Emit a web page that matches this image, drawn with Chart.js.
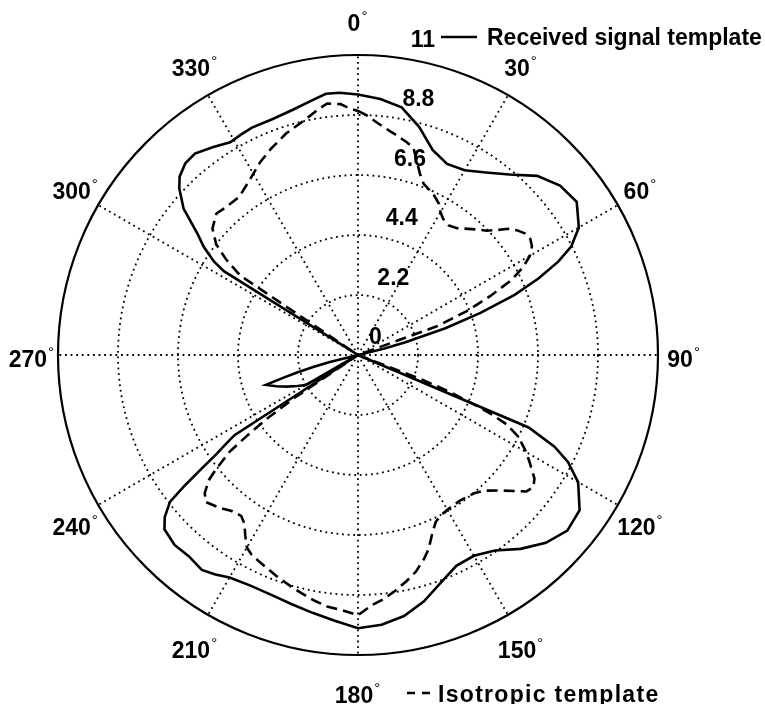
<!DOCTYPE html>
<html>
<head>
<meta charset="utf-8">
<title>Polar plot - templates</title>
<script src="https://cdn.jsdelivr.net/npm/chart.js@4.4.1/dist/chart.umd.min.js"></script>
<style>
  html, body { margin: 0; padding: 0; background: #fff; }
  #wrap { width: 765px; height: 704px; position: relative; }
</style>
</head>
<body>
<div id="wrap"><canvas id="myChart"></canvas></div>
<script>
// rings and spokes of the polar grid
var radialTicks = [0, 2.2, 4.4, 6.6, 8.8, 11];
var angleTicks = [0, 30, 60, 90, 120, 150, 180, 210, 240, 270, 300, 330];

// solid line: angle (deg, clockwise from top) / radius
var receivedAngles = [0, 5, 10, 15, 20, 25, 30, 35, 40, 45, 50, 55, 60, 63, 65, 67, 69, 71, 73, 75, 76, 77,
    112, 113, 115, 117, 120, 125, 130, 135, 140, 145, 150, 155, 160, 165, 170, 175, 180, 185, 190, 195, 200, 205,
    210, 213, 216, 220, 224, 228, 230, 232, 233, 234, 235, 236, 237, 238,
    240, 243, 246, 249, 252, 253, 254, 255, 256, 257,
    301, 302, 303, 305, 307, 310, 313, 315, 318, 321, 325, 329, 332, 335, 340, 345, 350, 353, 356];
var receivedValues = [9.55, 9.42, 9.22, 8.66, 8.0, 7.73, 7.82, 8.17, 8.64, 9.29, 9.67, 9.79, 9.35, 8.78, 8.1, 7.2, 6.15, 4.75, 3.35, 1.8, 1.0, 0,
    0, 6.8, 7.95, 8.64, 9.32, 9.92, 10.02, 9.74, 9.28, 8.75, 8.5, 8.53, 8.88, 9.35, 9.72, 9.93, 10.02, 9.78, 9.6, 9.45, 9.35, 9.33,
    9.42, 9.6, 9.74, 9.64, 9.68, 9.55, 9.25, 8.75, 7.95, 7.1, 6.35, 5.85, 5.4, 0,
    2.2, 2.5, 2.85, 3.2, 3.55, 2.9, 2.3, 1.7, 1.1, 0,
    0, 5.8, 6.3, 6.9, 7.36, 8.35, 8.96, 9.25, 9.46, 9.5, 9.3, 9.1, 9.15, 9.2, 9.2, 9.3, 9.5, 9.65, 9.64];

// dashed line
var isotropicAngles = [0, 2, 5, 8, 10, 13, 15, 17, 19, 21, 25, 28, 30, 32, 35, 38, 40, 43, 46, 48, 50, 52, 54, 56, 58, 60, 62, 64, 66, 68, 70, 71,
    110, 111, 112, 113, 114, 115, 117, 120, 122, 125, 127, 129, 131, 134, 137, 140, 145, 150, 153, 155, 157, 160, 162, 165, 168, 171, 174, 177,
    180, 183, 187, 190, 195, 200, 205, 208, 210, 212, 214, 216, 219, 222, 226, 228, 230, 231, 232, 233, 234, 235, 236, 237,
    302, 304, 306, 308, 311, 315, 318, 323, 328, 333, 337, 342, 347, 351, 353, 356, 358];
var isotropicValues = [8.95, 8.8, 8.52, 8.3, 8.18, 8.0, 7.86, 7.4, 7.0, 6.72, 6.52, 6.3, 6.05, 5.89, 5.8, 5.9, 6.05, 6.3, 6.56, 6.85, 7.2, 7.42, 7.58, 7.62, 7.52, 7.28, 6.85, 6.25, 5.3, 4.3, 3.1, 0,
    0, 2.5, 3.7, 4.6, 5.4, 6.0, 6.6, 7.12, 7.42, 7.9, 8.05, 7.95, 7.6, 7.15, 6.8, 6.62, 6.52, 6.55, 6.63, 6.75, 7.02, 7.57, 7.85, 8.22, 8.49, 8.75, 9.0, 9.2,
    9.54, 9.4, 9.29, 9.15, 8.9, 8.65, 8.42, 8.3, 8.15, 7.8, 7.45, 7.29, 7.36, 7.55, 7.76, 7.56, 7.14, 6.75, 6.3, 5.9, 5.0, 4.1, 2.8, 0,
    0, 5.2, 6.0, 6.6, 7.07, 7.34, 7.27, 7.25, 7.53, 7.92, 8.2, 8.54, 8.82, 9.14, 9.29, 9.22, 9.05];

var legendLabels = ['Received signal template', 'Isotropic template'];

// one label per degree, the radar scale then puts each value at its angle
var labels = [];
for (var i = 0; i < 360; i++) labels.push(String(i));

function toDegrees(angles, values) {
    var arr = labels.map(function() { return null; });
    angles.forEach(function(a, k) { arr[a % 360] = values[k]; });
    return arr;
}

var FONT = '"Liberation Sans", Arial, sans-serif';
var DEG = Math.PI / 180;

// matlab-like labels: angles outside the ring, radii along 82 deg, legend entries
var polarText = {
    id: 'polarText',
    afterDraw: function(chart) {
        var scale = chart.scales.r;
        var ctx = chart.ctx;
        var xc = scale.xCenter, yc = scale.yCenter, R = scale.drawingArea;
        ctx.save();
        ctx.fillStyle = '#000';

        angleTicks.forEach(function(a) {
            var txt = String(a);
            var x = xc + 1.087 * R * Math.sin(a * DEG) - 4;
            var y = yc - 1.12 * R * Math.cos(a * DEG) + 6;
            ctx.font = 'bold 23px ' + FONT;
            ctx.textAlign = 'center';
            ctx.textBaseline = 'middle';
            ctx.fillText(txt, x, y);
            var w = ctx.measureText(txt).width;
            ctx.font = '15px ' + FONT;
            ctx.textAlign = 'left';
            ctx.textBaseline = 'alphabetic';
            ctx.fillText('\u00b0', x + w / 2 + 1, y - 4);
        });

        ctx.font = 'bold 23px ' + FONT;
        ctx.textAlign = 'left';
        ctx.textBaseline = 'alphabetic';
        radialTicks.forEach(function(v) {
            var d = scale.getDistanceFromCenterForValue(v);
            ctx.fillText(String(v), xc + 11 + d * Math.sin(8 * DEG), yc - 11 - d * Math.cos(8 * DEG));
        });

        // legend, top entry sits next to the "11" label, bottom one next to 180
        ctx.strokeStyle = '#000';
        ctx.lineWidth = 2.4;
        ctx.beginPath();
        ctx.moveTo(441, 37);
        ctx.lineTo(477, 37);
        ctx.stroke();
        ctx.fillText(legendLabels[0], 487, 45);

        ctx.setLineDash([8, 7]);
        ctx.beginPath();
        ctx.moveTo(407, 693);
        ctx.lineTo(430, 693);
        ctx.stroke();
        ctx.letterSpacing = '1.3px';
        ctx.fillText(legendLabels[1], 438, 702);
        ctx.restore();
    }
};

var ctx = document.getElementById('myChart');

var myChart = new Chart(ctx, {
    type: 'radar',
    data: {
        labels: labels,
        datasets: [{
            label: legendLabels[0],
            data: toDegrees(receivedAngles, receivedValues),
            borderColor: '#000',
            borderWidth: 2.6,
            fill: false,
            spanGaps: true,
            tension: 0,
            pointRadius: 0,
            pointHitRadius: 0
        }, {
            label: legendLabels[1],
            data: toDegrees(isotropicAngles, isotropicValues),
            borderColor: '#000',
            borderWidth: 2.6,
            borderDash: [11, 6],
            fill: false,
            spanGaps: true,
            tension: 0,
            pointRadius: 0,
            pointHitRadius: 0
        }]
    },
    options: {
        responsive: true,
        maintainAspectRatio: false,
        devicePixelRatio: 1,
        animation: false,
        layout: {
            padding: { left: 58, right: 107, top: 55, bottom: 49 }
        },
        plugins: {
            legend: { display: false },
            tooltip: { enabled: false }
        },
        scales: {
            r: {
                min: 0,
                max: 11,
                ticks: { stepSize: 2.2, display: false },
                pointLabels: { display: false },
                grid: {
                    circular: true,
                    color: '#000',
                    lineWidth: function(c) { return c.tick && c.tick.value === 11 ? 2.2 : 1.8; }
                },
                border: {
                    dash: function(c) { return c.tick && c.tick.value === 11 ? [] : [1.8, 3.8]; }
                },
                angleLines: {
                    color: function(c) { return c.index % 30 === 0 ? '#000' : 'rgba(0,0,0,0)'; },
                    lineWidth: function(c) { return c.index % 30 === 0 ? 1.8 : 0; },
                    borderDash: [1.8, 3.8]
                }
            }
        }
    },
    plugins: [polarText]
});
</script>
</body>
</html>
